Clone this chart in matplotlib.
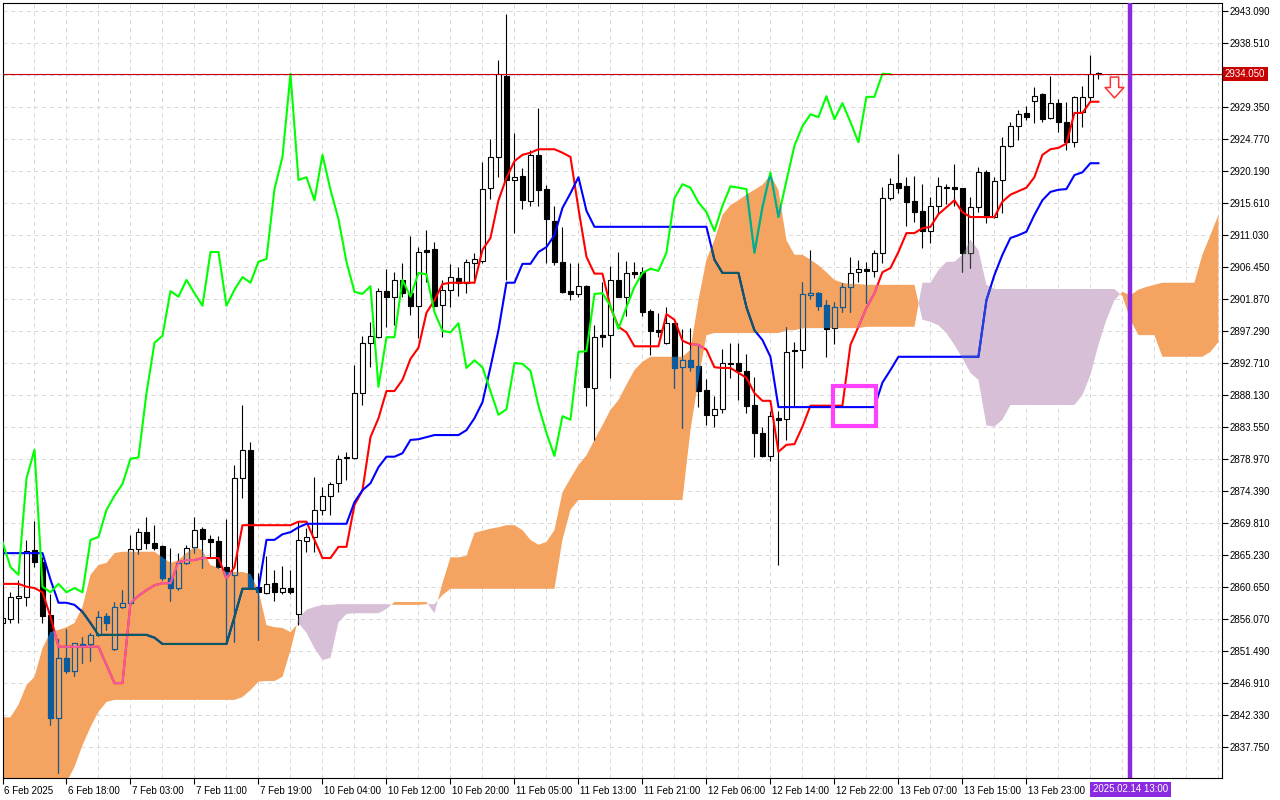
import matplotlib
matplotlib.use("Agg")
import matplotlib.pyplot as plt
import matplotlib.transforms as mtransforms
import numpy as np
from matplotlib.path import Path
from matplotlib.patches import Rectangle

plt.rcParams["font.family"] = ["Liberation Sans", "DejaVu Sans"]

# XAUUSD H1, bar index 0 = 6 Feb 2025 10:00
opens = [2855.5, 2856.1, 2859.1, 2859.2, 2866.0, 2864.2, 2856.6, 2841.9, 2850.5, 2848.6,
         2852.5, 2852.5, 2853.8, 2856.5, 2851.8, 2857.8, 2858.4, 2866.1, 2868.5, 2866.9,
         2866.5, 2861.9, 2860.5, 2864.1, 2866.4, 2868.9, 2867.5, 2867.2, 2863.5, 2862.4,
         2876.2, 2880.3, 2860.7, 2859.8, 2861.2, 2859.9, 2860.5, 2856.8, 2867.2, 2867.8,
         2871.7, 2873.7, 2875.5, 2879.1, 2879.1, 2888.4, 2895.6, 2896.4, 2903.0, 2902.2,
         2904.6, 2902.7, 2900.9, 2908.9, 2909.0, 2901.0, 2903.2, 2904.9, 2904.2, 2907.0,
         2907.3, 2917.7, 2922.2, 2933.8, 2918.9, 2919.5, 2915.9, 2922.5, 2917.6, 2913.0,
         2907.2, 2903.0, 2902.6, 2903.7, 2889.1, 2896.7, 2896.7, 2904.6, 2902.2, 2905.7,
         2905.7, 2900.2, 2897.4, 2895.6, 2898.4, 2892.1, 2893.1, 2892.3, 2888.8, 2885.3,
         2886.1, 2892.7, 2892.7, 2891.6, 2886.7, 2882.7, 2879.4, 2884.8, 2884.7, 2894.6,
         2894.6, 2902.4, 2902.7, 2901.0, 2897.7, 2900.7, 2903.6, 2905.7, 2906.2, 2905.9,
         2908.5, 2916.3, 2918.5, 2918.0, 2915.9, 2914.5, 2911.6, 2915.2, 2917.9, 2917.9,
         2917.8, 2908.5, 2915.0, 2920.0, 2913.6, 2918.9, 2923.8, 2926.6, 2928.5, 2930.2,
         2931.2, 2927.8, 2929.9, 2927.2, 2924.3, 2928.6, 2930.8, 2934.2]
highs = [2857.1, 2859.9, 2861.7, 2867.4, 2870.1, 2865.0, 2859.6, 2853.2, 2854.6, 2852.7,
         2853.5, 2854.1, 2857.2, 2856.9, 2858.5, 2860.2, 2868.1, 2869.1, 2870.7, 2869.5,
         2866.7, 2866.2, 2865.5, 2866.7, 2870.7, 2869.2, 2868.1, 2867.9, 2870.4, 2878.1,
         2886.7, 2881.4, 2862.7, 2865.1, 2863.1, 2863.7, 2863.1, 2870.1, 2869.1, 2876.4,
         2875.0, 2875.7, 2879.5, 2880.0, 2892.4, 2896.6, 2898.6, 2903.4, 2906.2, 2905.7,
         2907.0, 2910.9, 2909.3, 2911.8, 2910.0, 2904.6, 2906.9, 2906.5, 2907.6, 2908.5,
         2921.5, 2924.8, 2936.1, 2942.7, 2925.6, 2920.6, 2923.2, 2929.2, 2918.2, 2915.2,
         2912.2, 2907.0, 2907.0, 2903.9, 2898.2, 2904.3, 2906.6, 2908.6, 2907.3, 2907.2,
         2906.5, 2900.4, 2899.9, 2900.7, 2898.5, 2897.6, 2897.7, 2895.3, 2890.4, 2888.0,
         2894.7, 2895.6, 2895.6, 2894.0, 2890.7, 2883.6, 2885.8, 2885.8, 2897.9, 2895.7,
         2904.3, 2908.9, 2902.8, 2901.7, 2901.4, 2904.2, 2907.9, 2907.5, 2907.2, 2908.9,
         2917.9, 2919.2, 2922.6, 2919.3, 2919.5, 2918.3, 2916.5, 2919.3, 2918.3, 2921.2,
         2917.8, 2916.5, 2920.8, 2920.3, 2919.3, 2925.1, 2927.2, 2928.9, 2929.5, 2932.2,
         2931.3, 2933.8, 2930.5, 2930.1, 2930.9, 2932.4, 2936.8, 2934.3]
lows = [2854.8, 2855.5, 2855.5, 2857.9, 2863.5, 2855.5, 2840.9, 2834.0, 2848.4, 2847.9,
        2849.8, 2850.1, 2853.7, 2854.5, 2851.7, 2857.7, 2858.3, 2865.4, 2866.1, 2865.9,
        2861.7, 2858.6, 2860.2, 2864.0, 2865.5, 2863.4, 2864.8, 2863.4, 2852.6, 2852.8,
        2873.4, 2860.4, 2853.1, 2859.6, 2858.6, 2859.6, 2859.6, 2855.2, 2865.7, 2865.7,
        2871.0, 2871.0, 2874.2, 2876.0, 2879.0, 2886.7, 2892.1, 2896.3, 2897.9, 2898.2,
        2902.2, 2899.6, 2896.3, 2904.3, 2900.7, 2896.4, 2900.7, 2902.3, 2902.7, 2904.2,
        2907.0, 2916.2, 2919.3, 2904.6, 2911.3, 2914.7, 2915.2, 2915.2, 2907.0, 2906.7,
        2902.7, 2901.7, 2902.2, 2886.6, 2881.7, 2895.0, 2890.6, 2902.1, 2899.4, 2904.9,
        2899.4, 2893.9, 2896.4, 2895.5, 2889.1, 2883.4, 2891.6, 2886.4, 2883.8, 2883.5,
        2885.6, 2890.6, 2887.4, 2885.6, 2879.3, 2879.2, 2878.7, 2863.8, 2881.7, 2886.6,
        2892.0, 2901.9, 2900.3, 2893.6, 2895.4, 2900.0, 2900.0, 2904.3, 2901.3, 2905.0,
        2907.0, 2916.0, 2917.1, 2912.3, 2912.9, 2909.2, 2909.9, 2914.0, 2915.5, 2915.2,
        2905.7, 2906.3, 2914.3, 2912.7, 2913.5, 2914.2, 2923.6, 2924.6, 2927.5, 2927.1,
        2927.2, 2927.7, 2925.8, 2923.2, 2923.6, 2926.5, 2930.1, 2933.4]
closes = [2856.2, 2859.2, 2859.3, 2865.8, 2864.2, 2856.5, 2841.9, 2850.5, 2848.6, 2852.6,
          2852.3, 2853.8, 2856.4, 2855.5, 2857.8, 2858.4, 2866.1, 2868.5, 2866.9, 2866.2,
          2861.9, 2860.5, 2864.1, 2866.2, 2868.8, 2867.5, 2867.1, 2863.5, 2862.4, 2876.2,
          2880.3, 2860.7, 2859.9, 2861.1, 2859.9, 2860.5, 2859.9, 2867.4, 2867.8, 2871.7,
          2873.7, 2875.4, 2879.0, 2879.2, 2888.4, 2895.6, 2896.6, 2903.0, 2902.2, 2904.6,
          2902.7, 2900.9, 2908.6, 2908.6, 2900.9, 2903.2, 2905.0, 2904.2, 2907.2, 2907.6,
          2917.6, 2922.2, 2934.1, 2918.9, 2919.3, 2916.0, 2922.5, 2917.5, 2913.3, 2907.2,
          2902.9, 2902.6, 2903.7, 2889.3, 2896.4, 2896.4, 2904.6, 2902.2, 2905.6, 2905.4,
          2900.0, 2897.3, 2897.1, 2898.4, 2892.0, 2893.1, 2892.1, 2888.7, 2885.3, 2886.1,
          2892.7, 2892.6, 2891.6, 2886.6, 2882.7, 2879.4, 2885.1, 2884.6, 2894.3, 2894.4,
          2902.6, 2902.7, 2900.9, 2897.6, 2900.7, 2903.6, 2905.6, 2906.2, 2905.9, 2908.5,
          2916.3, 2918.3, 2917.8, 2915.7, 2914.3, 2911.6, 2915.2, 2918.0, 2917.8, 2917.6,
          2908.5, 2915.0, 2920.0, 2913.6, 2918.8, 2923.8, 2926.6, 2928.3, 2927.9, 2930.9,
          2927.6, 2929.9, 2927.2, 2924.3, 2930.8, 2930.8, 2934.1, 2934.05]

tenkan = [2861.1, 2861.1, 2861.1, 2860.7, 2860.5, 2859.9, 2856.4, 2852.1, 2852.1, 2852.1,
          2852.1, 2852.1, 2852.1, 2849.5, 2846.9, 2846.9, 2858.4, 2859.4, 2860.2, 2860.9,
          2861.2, 2861.2, 2864.2, 2864.5, 2864.5, 2864.8, 2864.8, 2864.8, 2861.9, 2863.5,
          2869.5, 2869.5, 2869.5, 2869.5, 2869.5, 2869.5, 2869.5, 2870.0, 2870.0, 2867.4,
          2864.8, 2864.8, 2866.4, 2866.4, 2872.4, 2874.5, 2882.1, 2884.8, 2888.7, 2888.7,
          2890.3, 2893.3, 2894.9, 2899.9, 2901.7, 2904.0, 2904.2, 2904.2, 2904.2, 2904.2,
          2908.9, 2910.6, 2916.0, 2919.2, 2921.6, 2922.5, 2922.8, 2923.3, 2923.3, 2923.3,
          2922.8, 2922.2, 2914.8, 2907.9, 2905.5, 2905.5, 2900.7, 2897.9, 2897.1, 2895.1,
          2895.1, 2895.1, 2895.1, 2899.7, 2898.9, 2895.9, 2895.4, 2895.3, 2894.6, 2892.1,
          2892.0, 2892.0, 2891.3, 2890.6, 2888.4, 2887.3, 2887.3, 2880.0, 2881.0, 2881.1,
          2883.6, 2886.6, 2886.6, 2886.6, 2886.6, 2886.6, 2895.3, 2897.9, 2900.6, 2902.7,
          2905.7, 2906.3, 2908.6, 2911.3, 2911.3, 2912.0, 2912.2, 2914.0, 2915.0, 2916.0,
          2914.3, 2913.6, 2913.6, 2913.6, 2913.6, 2915.8, 2916.8, 2917.3, 2917.8, 2919.3,
          2922.5, 2923.3, 2923.5, 2924.1, 2928.5, 2928.5, 2930.1, 2930.1]
kijun = [2865.5, 2865.5, 2865.5, 2865.5, 2865.5, 2865.5, 2861.7, 2858.4, 2858.4, 2858.1,
         2857.1, 2855.5, 2853.8, 2853.8, 2853.8, 2853.8, 2853.8, 2853.8, 2853.8, 2853.4,
         2852.5, 2852.5, 2852.5, 2852.5, 2852.5, 2852.5, 2852.5, 2852.5, 2852.5, 2856.4,
         2860.4, 2860.4, 2860.4, 2867.4, 2867.4, 2868.2, 2868.5, 2869.2, 2869.7, 2869.7,
         2869.7, 2869.7, 2869.7, 2869.7, 2872.8, 2874.5, 2875.5, 2877.8, 2879.3, 2879.3,
         2879.8, 2881.7, 2881.8, 2882.1, 2882.4, 2882.4, 2882.4, 2882.4, 2883.1, 2884.8,
         2887.1, 2892.1, 2897.4, 2904.2, 2904.2, 2906.9, 2906.9, 2908.6, 2909.3, 2911.0,
         2914.9, 2917.0, 2919.3, 2914.5, 2912.2, 2912.2, 2912.2, 2912.2, 2912.2, 2912.2,
         2912.2, 2912.2, 2912.2, 2912.2, 2912.2, 2912.2, 2912.2, 2912.2, 2912.2, 2907.5,
         2905.6, 2905.6, 2905.6, 2900.7, 2897.4, 2896.0, 2893.6, 2886.4, 2886.4, 2886.4,
         2886.4, 2886.4, 2886.4, 2886.4, 2886.4, 2886.4, 2886.4, 2886.4, 2886.4, 2886.4,
         2889.9, 2891.7, 2893.6, 2893.6, 2893.6, 2893.6, 2893.6, 2893.6, 2893.6, 2893.6,
         2893.6, 2893.6, 2893.6, 2901.7, 2905.3, 2908.2, 2910.6, 2911.0, 2911.5, 2913.9,
         2916.0, 2917.2, 2917.5, 2917.6, 2919.6, 2920.0, 2921.3, 2921.3]
# Senkou spans, already shifted 26 bars forward (index 0..152)
span_a = [2842.0, 2842.0, 2843.8, 2846.6, 2847.8, 2851.9, 2854.2, 2854.5, 2854.9, 2855.5,
          2857.8, 2862.4, 2863.8, 2864.1, 2865.5, 2865.7, 2865.7, 2865.7, 2865.7, 2865.7,
          2864.9, 2864.1, 2864.5, 2865.5, 2866.4, 2865.9, 2863.8, 2863.4, 2862.8, 2862.8,
          2862.8, 2862.5, 2860.2, 2855.2, 2854.9, 2854.8, 2854.2, 2855.5, 2854.1, 2851.9,
          2850.2, 2850.5, 2855.6, 2856.8, 2856.9, 2856.9, 2856.9, 2856.9, 2857.5, 2858.5,
          2858.5, 2858.5, 2858.5, 2858.5, 2856.9, 2861.2, 2864.9, 2864.9, 2865.1, 2868.4,
          2868.7, 2869.0, 2869.2, 2869.5, 2869.5, 2868.8, 2867.4, 2866.7, 2867.1, 2868.8,
          2874.2, 2876.2, 2878.1, 2879.5, 2881.7, 2883.8, 2886.0, 2887.4, 2889.6, 2891.7,
          2892.9, 2893.6, 2893.6, 2893.6, 2893.6, 2893.6, 2894.6, 2901.7, 2907.5, 2910.3,
          2913.9, 2915.3, 2916.0, 2916.8, 2917.5, 2918.2, 2919.6, 2917.5, 2910.3, 2908.2,
          2908.2, 2907.5, 2906.7, 2905.7, 2904.6, 2904.2, 2904.0, 2904.0, 2903.9, 2903.9,
          2903.9, 2903.9, 2903.9, 2903.9, 2903.9, 2898.9, 2898.6, 2898.1, 2897.0, 2895.3,
          2893.4, 2891.3, 2890.3, 2883.8, 2883.6, 2884.6, 2886.7, 2886.7, 2886.7, 2886.7,
          2886.7, 2886.7, 2886.7, 2886.7, 2886.7, 2888.1, 2891.0, 2895.3, 2898.9, 2901.7,
          2902.9, 2902.4, 2903.2, 2903.6, 2903.9, 2904.2, 2904.2, 2904.2, 2904.2, 2904.2,
          2908.2, 2911.0, 2913.9]
span_b = [2829.0, 2830.0, 2830.5, 2831.0, 2831.5, 2832.0, 2832.5, 2832.7, 2832.7, 2834.9,
          2838.0, 2840.6, 2842.8, 2844.2, 2844.5, 2844.5, 2844.5, 2844.5, 2844.5, 2844.5,
          2844.5, 2844.5, 2844.5, 2844.5, 2844.5, 2844.5, 2844.5, 2844.5, 2844.5, 2844.5,
          2844.9, 2845.9, 2847.1, 2847.2, 2847.2, 2847.8, 2851.6, 2856.2, 2857.4, 2857.8,
          2858.1, 2858.1, 2858.2, 2858.2, 2858.2, 2858.2, 2858.2, 2858.2, 2858.2, 2858.1,
          2858.1, 2858.1, 2858.1, 2858.2, 2858.2, 2859.5, 2860.4, 2860.4, 2860.4, 2860.4,
          2860.4, 2860.4, 2860.4, 2860.4, 2860.4, 2860.4, 2860.4, 2860.4, 2860.4, 2860.4,
          2867.4, 2871.7, 2873.1, 2873.1, 2873.1, 2873.1, 2873.1, 2873.1, 2873.1, 2873.1,
          2873.1, 2873.1, 2873.1, 2873.1, 2873.1, 2873.1, 2883.1, 2890.3, 2896.7, 2897.0,
          2897.0, 2897.0, 2897.0, 2897.0, 2897.0, 2897.0, 2897.0, 2897.0, 2897.4, 2897.4,
          2897.7, 2897.7, 2897.7, 2897.7, 2897.7, 2897.7, 2897.7, 2897.7, 2897.9, 2897.9,
          2897.9, 2897.9, 2897.9, 2897.9, 2897.9, 2904.2, 2904.2, 2906.0, 2907.2, 2907.2,
          2908.2, 2910.3, 2908.9, 2903.9, 2903.3, 2903.3, 2903.3, 2903.3, 2903.3, 2903.3,
          2903.3, 2903.3, 2903.3, 2903.3, 2903.3, 2903.3, 2903.3, 2903.3, 2903.3, 2903.3,
          2902.3, 2898.9, 2896.7, 2896.7, 2896.7, 2893.6, 2893.6, 2893.6, 2893.6, 2893.6,
          2893.6, 2894.3, 2895.7]

y_ticks = [2837.750, 2842.330, 2846.910, 2851.490, 2856.070, 2860.650, 2865.230, 2869.810,
           2874.390, 2878.970, 2883.550, 2888.130, 2892.710, 2897.290, 2901.870, 2906.450,
           2911.030, 2915.610, 2920.190, 2924.770, 2929.350, 2933.930, 2938.510, 2943.090]
x_tick_bars = [0, 8, 16, 24, 32, 40, 48, 56, 64, 72, 80, 88, 96, 104, 112, 120, 128]
x_tick_labels = ["6 Feb 2025", "6 Feb 18:00", "7 Feb 03:00", "7 Feb 11:00", "7 Feb 19:00",
                 "10 Feb 04:00", "10 Feb 12:00", "10 Feb 20:00", "11 Feb 05:00", "11 Feb 13:00",
                 "11 Feb 21:00", "12 Feb 06:00", "12 Feb 14:00", "12 Feb 22:00", "13 Feb 07:00",
                 "13 Feb 15:00", "13 Feb 23:00"]

bid = 2934.05
now_bar = 141
now_text = "2025.02.14 13:00"
box_bars = (103.8, 109.2)
box_prices = (2883.7, 2889.4)
arrow_bar, arrow_price = 139, 2932.2

ORANGE = "#F4A460"
THISTLE = "#D8BFD8"
RED = "#FF0000"
BLUE = "#0000FF"
LIME = "#00FF00"


def xor_col(c, cloud):
    # MT4 paints the cloud in xor mode: pixel ^ ~cloud
    v = int(c[1:], 16) ^ 0xFFFFFF ^ int(cloud[1:], 16)
    return "#%06X" % v


def draw_candles(ax, edge, up_face, dn_face, z, clip=None):
    x = np.arange(len(opens))
    o = np.array(opens)
    c = np.array(closes)
    faces = np.where(c >= o, up_face, dn_face)
    arts = [ax.vlines(x, lows, highs, colors=edge, lw=0.8, zorder=z)]
    bars = ax.bar(x, np.maximum(np.abs(c - o), 0.06), bottom=np.minimum(o, c), width=0.62,
                  color=list(faces), edgecolor=edge, linewidth=0.8, zorder=z + 0.1)
    arts += list(bars.patches)
    if clip is not None:
        for a in arts:
            a.set_clip_path(clip, ax.transData)


def draw_lines(ax, c_tenkan, c_kijun, c_chikou, z, clip=None):
    x = np.arange(len(closes))
    arts = []
    arts += ax.plot(x, tenkan, color=c_tenkan, lw=1.5, zorder=z)
    arts += ax.plot(x, kijun, color=c_kijun, lw=1.5, zorder=z)
    arts += ax.plot(x[:-26], closes[26:], color=c_chikou, lw=1.5, zorder=z)
    if clip is not None:
        for a in arts:
            a.set_clip_path(clip, ax.transData)


fig = plt.figure(figsize=(12.8, 8), dpi=100)
ax = fig.add_axes([2.5 / 1280, 22 / 800, 1219.5 / 1280, 775 / 800])
ax.set_xlim(0.05, 152.45)
ax.set_ylim(2833.32, 2944.23)

# cloud
xc = np.arange(len(span_a))
a = np.array(span_a)
b = np.array(span_b)
orange = ax.fill_between(xc, a, b, where=a >= b, interpolate=True, color=ORANGE, lw=0, zorder=1)
thistle = ax.fill_between(xc, a, b, where=b > a, interpolate=True, color=THISTLE, lw=0, zorder=1)
orange_clip = Path.make_compound_path(*orange.get_paths())
thistle_clip = Path.make_compound_path(*thistle.get_paths())

draw_candles(ax, "black", "white", "black", 2)
draw_lines(ax, RED, BLUE, LIME, 3)

for cloud, clip, z in [(ORANGE, orange_clip, 4), (THISTLE, thistle_clip, 4)]:
    draw_candles(ax, xor_col("#000000", cloud), cloud, xor_col("#000000", cloud), z, clip)
    draw_lines(ax, xor_col(RED, cloud), xor_col(BLUE, cloud), xor_col(LIME, cloud), z + 1, clip)

# bid line and label
ax.axhline(bid, color="#C80000", lw=0.8, zorder=6)
ytrans = mtransforms.blended_transform_factory(ax.transAxes, ax.transData)
ax.text(1.0025, bid, "%.3f" % bid, transform=ytrans, ha="left", va="center", color="white",
        fontsize=7, bbox=dict(boxstyle="square,pad=0.22", fc="#C80000", ec="none"),
        zorder=10, clip_on=False)

# sell arrow
arrow = Path([(-0.2, 0.5), (0.2, 0.5), (0.2, 0.0), (0.45, 0.0), (0.0, -0.5), (-0.45, 0.0),
              (-0.2, 0.0), (-0.2, 0.5)], closed=True)
ax.plot(arrow_bar, arrow_price, marker=arrow, markersize=15, mfc="white", mec="#FF3030",
        mew=1.1, zorder=7)

# highlight rectangle
ax.add_patch(Rectangle((box_bars[0], box_prices[0]), box_bars[1] - box_bars[0],
                       box_prices[1] - box_prices[0], fill=False, ec="#FF40FF", lw=3, zorder=7))

# current time line
ax.axvline(now_bar, color="#8A2BE2", lw=3.2, zorder=8)
xtrans = mtransforms.blended_transform_factory(ax.transData, ax.transAxes)
ax.text(now_bar, -0.0148, now_text, transform=xtrans, ha="center", va="center", color="white",
        fontsize=7, bbox=dict(boxstyle="square,pad=0.3", fc="#8A2BE2", ec="none"),
        zorder=10, clip_on=False)

# axes, ticks, grid
ax.yaxis.tick_right()
ax.set_yticks(y_ticks)
ax.set_yticklabels(["" if abs(v - 2933.93) < 0.01 else "%.3f" % v for v in y_ticks])
ax.set_xticks(x_tick_bars)
ax.set_xticklabels(x_tick_labels)
ax.set_xticks(np.arange(0, 153, 4), minor=True)
ax.tick_params(axis="x", which="major", length=4, width=0.8, pad=2, labelsize=7)
ax.tick_params(axis="x", which="minor", length=0)
ax.tick_params(axis="y", length=4, width=0.8, pad=1.5, labelsize=7)
shift = mtransforms.ScaledTranslation(1.5 / 100, 0, fig.dpi_scale_trans)
for lab in ax.get_xticklabels():
    lab.set_horizontalalignment("left")
    lab.set_transform(lab.get_transform() + shift)
ax.grid(True, which="both", axis="x", color="#D8D8D8", lw=0.7, ls=(0, (4, 4)))
ax.grid(True, which="major", axis="y", color="#D8D8D8", lw=0.7, ls=(0, (4, 4)))
ax.set_axisbelow(True)
for s in ax.spines.values():
    s.set_linewidth(0.8)

fig.savefig("out.png", dpi=100)
